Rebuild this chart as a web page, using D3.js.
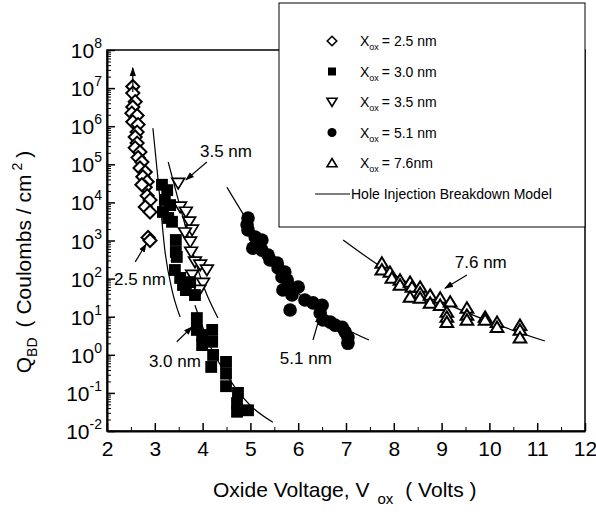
<!DOCTYPE html>
<html>
<head>
<meta charset="utf-8">
<script src="https://cdn.jsdelivr.net/npm/d3@7"></script>
<style>
  body { margin: 0; background: #fff; }
  svg { font-family: "Liberation Sans", Arial, Helvetica, sans-serif; }
</style>
</head>
<body>
<svg id="chart" width="596" height="512"></svg>
<script>
// measured points, [oxide voltage (V), QBD (C/cm2)]
const ox25 = [[2.54,1.1e7],[2.54,7.4e6],[2.59,4.4e6],[2.54,3.2e6],[2.52,2.2e6],[2.63,1.9e6],[2.54,1.3e6],
  [2.65,1.1e6],[2.63,7e5],[2.59,5.2e5],[2.63,3.6e5],[2.59,2.7e5],[2.69,2.1e5],[2.65,1.5e5],[2.73,1.15e5],
  [2.69,8e4],[2.80,6.3e4],[2.75,4.7e4],[2.84,3.5e4],[2.80,2.5e4],[2.73,2.9e4],[2.84,1.5e4],[2.90,1.15e4],
  [2.80,7.6e3],[2.90,5.6e3],[2.86,1.2e3],[2.90,1.0e3]];
const ox30 = [[3.15,2.9e4],[3.26,2.1e4],[3.21,1.16e4],[3.32,8.5e3],[3.17,5.6e3],[3.28,3.9e3],[3.36,3.1e3],
  [3.44,1.03e3],[3.44,500],[3.46,370],[3.42,168],[3.53,104],[3.59,68],[3.65,50],[3.74,81],[3.84,37],
  [3.88,9.2],[3.88,4.5],[3.99,3.3],[3.99,1.8],[4.20,4.5],[4.20,2.2],[4.22,0.99],[4.18,0.48],
  [4.49,0.65],[4.49,0.32],[4.49,0.15],[4.74,0.1],[4.72,0.054],[4.72,0.032],[4.95,0.035]];
const ox35 = [[3.49,3.2e4],[3.53,7.6e3],[3.65,5.6e3],[3.72,3.1e3],[3.78,1.9e3],[3.63,1.6e3],[3.74,920],
  [3.76,500],[3.84,275],[3.95,230],[4.09,170],[3.78,124],[4.01,76],[3.93,50]];
const ox51 = [[4.95,3.9e3],[4.93,2.6e3],[4.95,1.9e3],[5.10,1.24e3],[5.24,1.03e3],[5.05,630],[5.24,560],
  [5.37,415],[5.41,310],[5.56,257],[5.58,190],[5.72,148],[5.66,110],[5.77,92],[5.83,60],[5.68,50],
  [6.00,60],[5.87,37],[6.14,27.5],[5.83,15],[6.31,23],[6.50,20],[6.46,12.6],[6.52,8.2],[6.67,7.2],
  [6.77,6.0],[6.92,5.3],[6.98,4.0],[7.04,2.9],[7.04,2.0]];
const ox76 = [[7.75,257],[7.75,170],[7.92,148],[7.96,104],[8.13,92],[8.13,68],[8.34,81],[8.38,60],
  [8.55,60],[8.55,42],[8.34,33],[8.55,31],[8.76,37],[8.76,23],[8.97,31],[8.97,20],[9.18,24.5],
  [9.11,13.2],[9.11,9.8],[9.11,7.2],[9.53,17],[9.53,11],[9.53,8.2],[9.91,9.8],[9.91,8.2],
  [10.16,7.2],[10.16,5.3],[10.64,6.0],[10.64,4.5],[10.64,2.8]];

// hole injection breakdown model curves
const model1 = [[2.96,8.9e5],[3.09,2.1e4],[3.21,560],[3.36,50],[3.53,9.8]];
const model2 = [[3.28,1.15e5],[3.53,7.6e3],[3.78,560],[4.05,50],[4.32,9.3]];
const model3 = [[3.84,20],[4.15,1.8],[4.57,0.22],[4.99,0.048],[5.47,0.017]];
const model4 = [[4.51,2.5e4],[4.95,3.1e3],[5.41,415],[5.83,68],[6.46,15],[6.98,5.0],[7.48,2.45]];
const model5 = [[6.94,1.03e3],[7.71,214],[8.34,72],[9.03,24.5],[10.08,6.8],[11.16,2.3]];

const xTicks = [2,3,4,5,6,7,8,9,10,11,12];
const yExponents = [-2,-1,0,1,2,3,4,5,6,7,8];

// thickness labels: text position and arrow [from, to]
const notes = [
  {text: '3.5 nm', at: [4.49,1.55e5], from: [4.09,1.15e5], to: [3.65,3.9e4]},
  {text: '2.5 nm', at: [2.69,68], from: [2.59,275], to: [2.82,810]},
  {text: '3.0 nm', at: [3.42,0.48], from: [3.46,2.2], to: [3.78,5.4]},
  {text: '5.1 nm', at: [6.16,0.58], from: [6.31,2.45], to: [6.46,11]},
  {text: '7.6 nm', at: [9.82,190], from: [9.53,124], to: [9.07,56]}
];
const topArrow = {from: [2.54,7.9e6], to: [2.54,3.4e7]};

const legendLabels = ['2.5 nm','3.0 nm','3.5 nm','5.1 nm','7.6nm'];

const svg = d3.select('#chart');
const x = d3.scaleLinear().domain([2,12]).range([107,585]);
const y = d3.scaleLog().domain([1e-2,1e8]).range([431,50]);

svg.append('defs').append('marker')
  .attr('id','head').attr('viewBox','0 0 10 10').attr('refX',9).attr('refY',5)
  .attr('markerWidth',9).attr('markerHeight',9).attr('markerUnits','userSpaceOnUse')
  .attr('orient','auto')
  .append('path').attr('d','M0,1.5 L10,5 L0,8.5 Z').attr('fill','#000');

// symbols
const diamond = {draw(c, s) { const r = Math.sqrt(s)/2; c.moveTo(0,-r); c.lineTo(r,0); c.lineTo(0,r); c.lineTo(-r,0); c.closePath(); }};
const triDown = {draw(c, s) { const r = Math.sqrt(s)/2; c.moveTo(-r,-0.75*r); c.lineTo(r,-0.75*r); c.lineTo(0,0.9*r); c.closePath(); }};
const triUp = {draw(c, s) { const r = Math.sqrt(s)/2; c.moveTo(0,-0.9*r); c.lineTo(r,0.75*r); c.lineTo(-r,0.75*r); c.closePath(); }};

const series = [
  {data: ox51, type: d3.symbolCircle, size: 145, fill: '#000', sw: 0, lsize: 64},
  {data: ox76, type: triUp, size: 160, fill: '#fff', sw: 2, lsize: 100},
  {data: ox35, type: triDown, size: 160, fill: '#fff', sw: 1.7, lsize: 100},
  {data: ox30, type: d3.symbolSquare, size: 140, fill: '#000', sw: 0, lsize: 64},
  {data: ox25, type: diamond, size: 170, fill: '#fff', sw: 2, lsize: 90}
];

// plot frame
svg.append('rect').attr('x',107).attr('y',50).attr('width',478).attr('height',381)
  .attr('fill','none').attr('stroke','#000').attr('stroke-width',1.5);

// model lines
const line = d3.line().x(d => x(d[0])).y(d => y(d[1])).curve(d3.curveMonotoneX);
svg.selectAll('.model').data([model1, model2, model3, model4, model5]).enter()
  .append('path').attr('class','model').attr('d', line)
  .attr('fill','none').attr('stroke','#000').attr('stroke-width',1.2);

// points
series.forEach(s => {
  svg.append('g').selectAll('path').data(s.data).enter().append('path')
    .attr('transform', d => `translate(${x(d[0])},${y(d[1])})`)
    .attr('d', d3.symbol().type(s.type).size(s.size))
    .attr('fill', s.fill).attr('stroke','#000').attr('stroke-width', s.sw);
});

// annotations
notes.forEach(n => {
  svg.append('text').attr('x', x(n.at[0])).attr('y', y(n.at[1]))
    .attr('text-anchor','middle').attr('font-size',17).text(n.text);
  svg.append('line').attr('x1', x(n.from[0])).attr('y1', y(n.from[1]))
    .attr('x2', x(n.to[0])).attr('y2', y(n.to[1]))
    .attr('stroke','#000').attr('stroke-width',1.2).attr('marker-end','url(#head)');
});
svg.append('line').attr('x1', x(topArrow.from[0])).attr('y1', y(topArrow.from[1]))
  .attr('x2', x(topArrow.to[0])).attr('y2', y(topArrow.to[1]))
  .attr('stroke','#000').attr('stroke-width',1.2).attr('marker-end','url(#head)');

// x axis
const xMinor = d3.range(2.5, 12, 1);
svg.append('g').attr('transform','translate(0,431)')
  .call(d3.axisBottom(x).tickValues(xMinor).tickSizeInner(-4).tickSizeOuter(0).tickFormat(''))
  .call(g => g.select('.domain').remove());
svg.append('g').attr('transform','translate(0,431)')
  .call(d3.axisBottom(x).tickValues(xTicks).tickSizeInner(-8).tickSizeOuter(0).tickPadding(10).tickFormat(d3.format('d')))
  .call(g => g.select('.domain').attr('stroke-width',2))
  .call(g => g.selectAll('line').attr('stroke-width',1.5))
  .call(g => g.selectAll('text').attr('font-size',21).attr('font-family',null).attr('fill','#000'));

// y axis
const yMinor = [];
yExponents.slice(0,-1).forEach(e => d3.range(2,10).forEach(m => yMinor.push(m*Math.pow(10,e))));
svg.append('g').attr('transform','translate(107,0)')
  .call(d3.axisLeft(y).tickValues(yMinor).tickSizeInner(-4).tickSizeOuter(0).tickFormat(''))
  .call(g => g.select('.domain').remove());
svg.append('g').attr('transform','translate(107,0)')
  .call(d3.axisLeft(y).tickValues(yExponents.map(e => Math.pow(10,e))).tickSizeInner(-8).tickSizeOuter(0).tickFormat(''))
  .call(g => g.select('.domain').attr('stroke-width',2))
  .call(g => g.selectAll('line').attr('stroke-width',1.5));

const yLab = svg.append('g').selectAll('text').data(yExponents).enter().append('text')
  .attr('x',102).attr('y', e => y(Math.pow(10,e)) + 8).attr('text-anchor','end');
yLab.append('tspan').attr('font-size',21).text('10');
yLab.append('tspan').attr('font-size',14).attr('dy',-10).text(e => e);

// axis titles
const xt = svg.append('text').attr('x',213).attr('y',497).attr('font-size',21);
xt.append('tspan').text('Oxide Voltage, V');
xt.append('tspan').attr('dx',8).attr('dy',7).attr('font-size',15).text('ox');
xt.append('tspan').attr('dx',12).attr('dy',-7).text('( Volts )');

const yt = svg.append('text').attr('transform','translate(31,262) rotate(-90)')
  .attr('text-anchor','middle').attr('font-size',21);
yt.append('tspan').text('Q');
yt.append('tspan').attr('dy',6).attr('font-size',14).text('BD');
yt.append('tspan').attr('dy',-6).attr('dx',10).text('( Coulombs / cm');
yt.append('tspan').attr('dy',-9).attr('dx',4).attr('font-size',14).text('2');
yt.append('tspan').attr('dy',9).attr('dx',5).text(')');

// legend
const lg = svg.append('g');
lg.append('rect').attr('x',279).attr('y',3).attr('width',306).attr('height',224)
  .attr('fill','#fff').attr('stroke','#000').attr('stroke-width',1);
const order = [4,3,2,0,1];
legendLabels.forEach((lab, i) => {
  const s = series[order[i]];
  const cy = 41 + i*30.5;
  lg.append('path').attr('transform', `translate(332,${cy})`)
    .attr('d', d3.symbol().type(s.type).size(s.lsize))
    .attr('fill', s.fill).attr('stroke','#000').attr('stroke-width', s.sw ? 1.6 : 0);
  const t = lg.append('text').attr('x',360).attr('y',cy+5).attr('font-size',14);
  t.append('tspan').text('X');
  t.append('tspan').attr('dy',4).attr('font-size',9).text('ox');
  t.append('tspan').attr('dy',-4).attr('dx',3).text('= ' + lab);
});
lg.append('line').attr('x1',315).attr('x2',350).attr('y1',194).attr('y2',194)
  .attr('stroke','#000').attr('stroke-width',1.2);
lg.append('text').attr('x',351).attr('y',199).attr('font-size',14).text('Hole Injection Breakdown Model');
</script>
</body>
</html>
